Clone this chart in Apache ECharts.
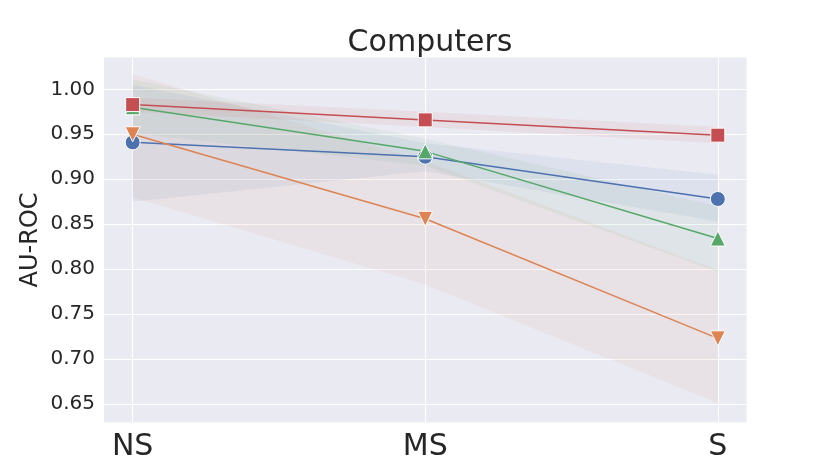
<!DOCTYPE html>
<html>
<head>
<meta charset="utf-8">
<script src="https://cdn.jsdelivr.net/npm/echarts@6/dist/echarts.min.js"></script>
<style>html,body{margin:0;padding:0;background:#fff}#main{width:830px;height:475px}</style>
</head>
<body>
<div id="main"></div>
<script>
// categories on the x axis and y tick values
var categories = ['NS', 'MS', 'S'];
var yTicks = [0.65, 0.70, 0.75, 0.80, 0.85, 0.90, 0.95, 1.00];

// mean AU-ROC and band limits
var blueMean = [0.941, 0.925, 0.878];
var blueLow = [0.875, 0.909, 0.853];
var blueHigh = [1.005, 0.940, 0.905];

var orangeMean = [0.950, 0.856, 0.723];
var orangeLow = [0.880, 0.783, 0.651];
var orangeHigh = [1.017, 0.920, 0.799];

var greenMean = [0.980, 0.931, 0.834];
var greenLow = [0.951, 0.915, 0.797];
var greenHigh = [1.011, 0.945, 0.870];

var redMean = [0.983, 0.966, 0.949];
var redLow = [0.975, 0.958, 0.940];
var redHigh = [0.991, 0.975, 0.958];

function pts(arr) {
  return arr.map(function (v, i) { return [i, v]; });
}

// band drawn as one polygon through the axis scales
function band(low, high, color) {
  return {
    type: 'custom', silent: true, z: 1,
    data: low.map(function (v, i) { return [i, v, high[i]]; }),
    encode: { x: 0, y: [1, 2] },
    renderItem: function (params, api) {
      if (params.dataIndexInside !== 0) return;
      var n = params.dataInsideLength, top = [], bot = [];
      for (var i = 0; i < n; i++) {
        var x = api.value(0, i);
        bot.push(api.coord([x, api.value(1, i)]));
        top.unshift(api.coord([x, api.value(2, i)]));
      }
      return {
        type: 'polygon',
        shape: { points: bot.concat(top) },
        style: { fill: color, opacity: 0.08 }
      };
    }
  };
}

function meanLine(name, mean, color, symbol, size, rotate) {
  return {
    name: name, type: 'line', data: pts(mean), z: 3,
    symbol: symbol, symbolSize: size, symbolRotate: rotate || 0,
    showAllSymbol: true,
    lineStyle: { color: color, width: 1.5 },
    itemStyle: { color: color, borderColor: '#fff', borderWidth: 1, opacity: 1 }
  };
}

var myecharts = echarts.init(document.getElementById('main'));
var series = [
  band(blueLow, blueHigh, '#4C72B0'),
  band(orangeLow, orangeHigh, '#DD8452'),
  band(greenLow, greenHigh, '#55A868'),
  band(redLow, redHigh, '#C44E52'),
  meanLine('blue', blueMean, '#4C72B0', 'circle', 15),
  meanLine('orange', orangeMean, '#DD8452', 'triangle', 15, 180),
  meanLine('green', greenMean, '#55A868', 'triangle', 15),
  meanLine('red', redMean, '#C44E52', 'rect', 14)
];

var option = {
  animation: false,
  textStyle: { fontFamily: 'DejaVu Sans' },
  title: {
    text: 'Computers',
    left: 425, top: 23, textAlign: 'center',
    textStyle: { fontSize: 30, fontWeight: 'normal', color: '#262626', fontFamily: 'DejaVu Sans' }
  },
  grid: {
    left: 104, right: 83.5, top: 57.5, bottom: 52.7,
    show: true, backgroundColor: '#EAEAF2', borderWidth: 0
  },
  xAxis: {
    type: 'value', min: -0.098, max: 2.098,
    axisLine: { show: false },
    axisTick: { show: false, customValues: [0, 1, 2] },
    axisLabel: {
      customValues: [0, 1, 2], margin: 10, fontSize: 30, color: '#262626',
      formatter: function (v) { return categories[Math.round(v)]; }
    },
    splitLine: { show: true, lineStyle: { color: '#ffffff', width: 1 } }
  },
  yAxis: {
    type: 'value', min: 0.6296, max: 1.0354,
    name: 'AU-ROC', nameLocation: 'middle', nameGap: 61, nameMoveOverlap: false,
    nameTextStyle: { fontSize: 24, color: '#262626' },
    axisLine: { show: false },
    axisTick: { show: false, customValues: yTicks },
    axisLabel: {
      customValues: yTicks, margin: 9, fontSize: 20, color: '#262626',
      formatter: function (v) { return v.toFixed(2); }
    },
    splitLine: { show: true, lineStyle: { color: '#ffffff', width: 1 } }
  },
  series: series
};
myecharts.setOption(option);
</script>
</body>
</html>
